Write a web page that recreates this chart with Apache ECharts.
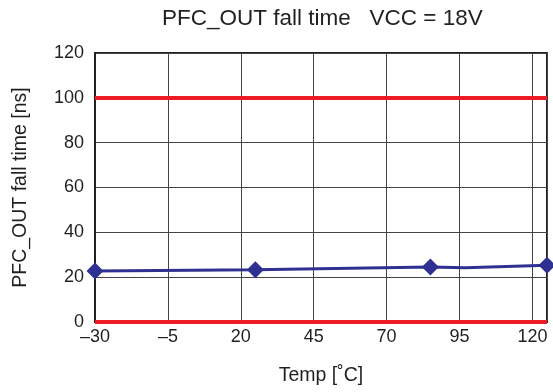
<!DOCTYPE html>
<html><head><meta charset="utf-8">
<script src="https://cdn.jsdelivr.net/npm/echarts@6/dist/echarts.min.js"></script>
<style>html,body{margin:0;padding:0;background:#fff}#c{width:553px;height:392px}</style>
</head><body><div id="c"></div>
<script>
const titleText = 'PFC_OUT fall time   VCC = 18V';
const xName = 'Temp [˚C]';
const yName = 'PFC_OUT fall time [ns]';
const tempC = [-30, 25, 85, 97, 125];
const fallTimeNs = [22.7, 23.3, 24.5, 24.2, 25.3];
const markerShown = [true, true, true, false, true];
const limitLines = [0, 100];
const xTicks = [-30, -5, 20, 45, 70, 95, 120];
const yTicks = [0, 20, 40, 60, 80, 100, 120];

const font = "'Liberation Sans', Arial, Helvetica, sans-serif";
const txt = '#231f20';
const chart = echarts.init(document.getElementById('c'), null, {renderer: 'canvas'});
chart.setOption({
  animation: false,
  backgroundColor: '#fff',
  title: {text: titleText, left: 157, top: 2,
    textStyle: {fontFamily: font, fontSize: 22.5, fontWeight: 'normal', color: txt}},
  grid: {left: 95, right: 6, top: 53, bottom: 70, show: true, borderColor: '#231f20', borderWidth: 2, containLabel: false},
  xAxis: {
    type: 'value', min: xTicks[0], max: 125, interval: 25,
    name: xName, nameLocation: 'middle', nameGap: 44,
    nameTextStyle: {fontFamily: font, fontSize: 19.5, color: txt},
    axisLine: {show: true, onZero: false, lineStyle: {color: '#231f20', width: 2}},
    axisTick: {show: false},
    splitLine: {show: true, lineStyle: {color: '#444', width: 1}},
    axisLabel: {fontFamily: font, fontSize: 18, color: txt, margin: 6, showMaxLabel: false,
      formatter: v => xTicks.includes(v) ? String(v).replace('-', '\u2013') : ''}
  },
  yAxis: {
    type: 'value', min: yTicks[0], max: yTicks[yTicks.length - 1], interval: 20,
    name: yName, nameLocation: 'middle', nameGap: 64,
    nameTextStyle: {fontFamily: font, fontSize: 19.5, color: txt},
    axisLine: {show: true, onZero: false, lineStyle: {color: '#231f20', width: 2}},
    axisTick: {show: false},
    splitLine: {show: true, lineStyle: {color: '#444', width: 1}},
    axisLabel: {fontFamily: font, fontSize: 18, color: txt, margin: 11}
  },
  series: [{
    type: 'line', clip: false, z: 5,
    data: tempC.map((t, i) => ({value: [t, fallTimeNs[i]], symbol: markerShown[i] ? 'diamond' : 'none'})),
    symbolSize: 17,
    lineStyle: {color: '#2e3192', width: 3},
    itemStyle: {color: '#2e3192'},
    markLine: {
      silent: true, symbol: 'none', z: 4,
      label: {show: false},
      lineStyle: {color: '#ed1c24', width: 4, type: 'solid'},
      data: limitLines.map(v => ({yAxis: v}))
    }
  }]
});
</script></body></html>
